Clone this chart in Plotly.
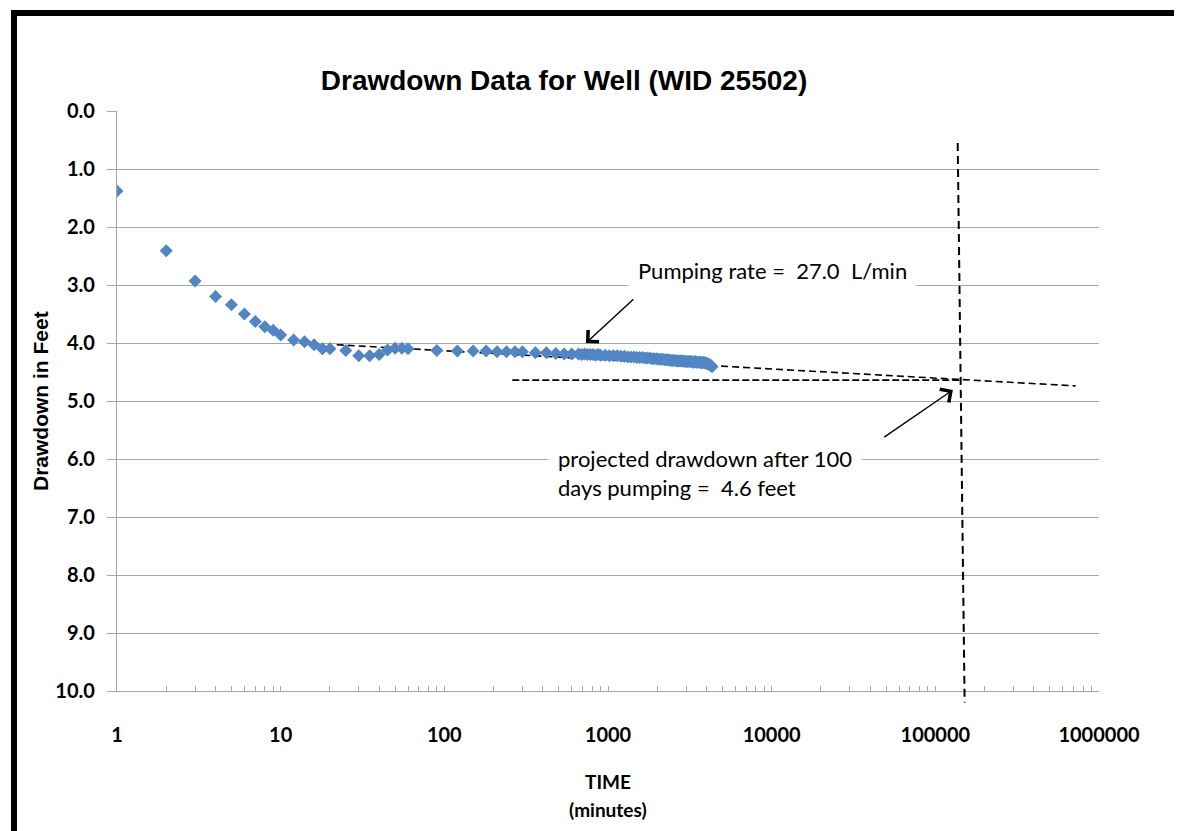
import numpy as np
import plotly.graph_objects as go

# elapsed pumping time (minutes) and drawdown (feet)
time_min = [1, 2, 3, 4, 5, 6, 7, 8, 9, 10, 12, 14, 16, 18, 20, 25, 30, 35, 40, 45,
            50, 55, 60, 90, 120, 150, 180, 210, 240, 270, 300, 360, 420, 480, 540, 600,
            660, 690, 720, 750, 780, 810, 840, 870, 900, 960, 1020, 1080, 1140, 1200,
            1260, 1320, 1380, 1440, 1500, 1560, 1620, 1680, 1740, 1800, 1860, 1920,
            1980, 2040, 2100, 2160, 2220, 2280, 2340, 2400, 2460, 2520, 2580, 2640,
            2700, 2760, 2820, 2880, 2940, 3000, 3060, 3120, 3180, 3240, 3300, 3360,
            3420, 3480, 3540, 3600, 3660, 3720, 3780, 3840, 3900, 3960, 4020, 4080,
            4140, 4200, 4260, 4320]
drawdown_ft = [1.38, 2.41, 2.93, 3.2, 3.34, 3.5, 3.63, 3.72, 3.78, 3.86, 3.95, 3.98,
               4.03, 4.1, 4.1, 4.13, 4.22, 4.22, 4.2, 4.12, 4.09, 4.09, 4.1, 4.13, 4.14,
               4.14, 4.14, 4.15, 4.15, 4.15, 4.15, 4.17, 4.17, 4.18, 4.19, 4.19,
               4.19, 4.2, 4.19, 4.2, 4.2, 4.2, 4.21, 4.2, 4.21, 4.21, 4.22, 4.22, 4.22,
               4.23, 4.23, 4.24, 4.24, 4.24, 4.25, 4.25, 4.25, 4.26, 4.26, 4.26, 4.27,
               4.27, 4.27, 4.28, 4.28, 4.28, 4.29, 4.29, 4.29, 4.3, 4.3, 4.3, 4.3, 4.31,
               4.31, 4.31, 4.31, 4.31, 4.32, 4.32, 4.32, 4.32, 4.32, 4.32, 4.33, 4.33,
               4.32, 4.33, 4.33, 4.33, 4.33, 4.34, 4.34, 4.33, 4.34, 4.35, 4.35, 4.36,
               4.37, 4.38, 4.39, 4.41]

# hand drawn projection lines
trend_t = [22, 720000]
trend_dd = [4.03, 4.74]
proj_t = [260, 144000]
proj_dd = [4.64, 4.64]
vert_t = [137000, 151000]
vert_dd = [0.55, 10.2]

# arrows: (time, drawdown) of head and tail
pump_head = (733, 4.0)
pump_tail = (1460, 3.22)
proj_head = (128000, 4.81)
proj_tail = (47700, 5.64)

x_tickvals = [1, 10, 100, 1000, 10000, 100000, 1000000]
x_ticktext = ['1', '10', '100', '1000', '10000', '100000', '1000000']
x_minor = [m * d for d in [1, 10, 100, 1000, 10000, 100000] for m in range(2, 10)]
y_tickvals = [0, 1, 2, 3, 4, 5, 6, 7, 8, 9, 10]
y_range = [10, 0]

W, H = 1182, 831
L, R, T, B = 109, 91, 103, 148
pw, ph = W - L - R, H - T - B

grid = '#a6a6a6'
calibri = 'Lato, Carlito, Calibri, sans-serif'
arial = 'Liberation Sans, Arial, sans-serif'

fig = go.Figure()

fig.add_trace(go.Scatter(x=trend_t, y=trend_dd, mode='lines',
                         line=dict(color='black', width=1.6, dash='7px,4px')))
fig.add_trace(go.Scatter(x=proj_t, y=proj_dd, mode='lines',
                         line=dict(color='black', width=1.6, dash='7px,3px')))
fig.add_trace(go.Scatter(x=time_min, y=drawdown_ft, mode='markers',
                         marker=dict(symbol='diamond', size=10, color='#5285c4',
                                     line=dict(width=0))))

# vertical line at 100 days, runs a bit past the axis
fig.add_shape(type='line', xref='x', yref='paper',
              x0=vert_t[0], x1=vert_t[1],
              y0=(y_range[0] - vert_dd[0]) / (y_range[0] - y_range[1]),
              y1=(y_range[0] - vert_dd[1]) / (y_range[0] - y_range[1]),
              line=dict(color='black', width=2, dash='8px,5px'))

# outer frame
fig.add_shape(type='rect', xref='paper', yref='paper',
              x0=(6 - L) / pw, x1=(1178 - L) / pw,
              y0=(T + ph - 836) / ph, y1=(T + ph - 5) / ph,
              line=dict(color='black', width=6))

for head, tail in [(pump_head, pump_tail), (proj_head, proj_tail)]:
    fig.add_annotation(x=np.log10(head[0]), y=head[1],
                       ax=np.log10(tail[0]), ay=tail[1],
                       xref='x', yref='y', axref='x', ayref='y', text='',
                       showarrow=True, arrowhead=4, arrowsize=2.2, arrowwidth=1.4,
                       arrowcolor='black')

nb = '\u00a0'
fig.add_annotation(xref='paper', yref='paper', x=(620 - L) / pw, y=(T + ph - 262) / ph,
                   xanchor='left', yanchor='middle', showarrow=False,
                   text=f'Pumping rate ={nb} 27.0 {nb}L/min',
                   font=dict(family=calibri, size=22, color='black'),
                   bgcolor='white', borderpad=9)
fig.add_annotation(xref='paper', yref='paper', x=(540 - L) / pw, y=(T + ph - 465) / ph,
                   xanchor='left', yanchor='middle', showarrow=False, align='left',
                   text=f'projected drawdown after 100<br>days pumping ={nb} 4.6 feet',
                   font=dict(family=calibri, size=22, color='black'),
                   bgcolor='white', borderpad=9)

fig.add_annotation(xref='paper', yref='paper', x=(32 - L) / pw, y=0.5,
                   xanchor='center', yanchor='middle', showarrow=False,
                   text='<b>Drawdown in Feet</b>', textangle=-90,
                   font=dict(family=arial, size=21, color='black'))
fig.add_annotation(xref='paper', yref='paper', x=0.5, y=(T + ph - 773) / ph,
                   xanchor='center', yanchor='middle', showarrow=False,
                   text='<b>TIME</b>', font=dict(family=calibri, size=19, color='black'))
fig.add_annotation(xref='paper', yref='paper', x=0.5, y=(T + ph - 801) / ph,
                   xanchor='center', yanchor='middle', showarrow=False,
                   text='<b>(minutes)</b>', font=dict(family=calibri, size=19, color='black'))

fig.update_layout(
    width=W, height=H,
    margin=dict(l=L, r=R, t=T, b=B),
    paper_bgcolor='white', plot_bgcolor='white',
    showlegend=False,
    title=dict(text='<b>Drawdown Data for Well (WID 25502)</b>',
               x=556 / W, xanchor='center', y=1 - 72 / H, yanchor='middle',
               font=dict(family=arial, size=28, color='black')),
)
fig.update_xaxes(type='log', range=[0, 6], showgrid=False, zeroline=False,
                 showline=True, linecolor=grid, linewidth=1.2,
                 tickvals=x_tickvals, ticktext=x_ticktext,
                 ticks='inside', ticklen=5, tickcolor=grid,
                 ticklabelstandoff=26,
                 minor=dict(tickvals=x_minor, ticks='inside', ticklen=5,
                            tickcolor=grid, showgrid=False),
                 tickfont=dict(family=calibri, size=20, color='black', weight='bold'))
fig.update_yaxes(range=y_range, tickvals=y_tickvals, tickformat='.1f',
                 showgrid=True, gridcolor=grid, gridwidth=1.2, zeroline=False,
                 showline=True, linecolor=grid, linewidth=1.2,
                 ticks='outside', ticklen=9, tickcolor=grid,
                 ticklabelstandoff=8,
                 tickfont=dict(family=calibri, size=20, color='black', weight='bold'))

fig.write_html('out.html')
